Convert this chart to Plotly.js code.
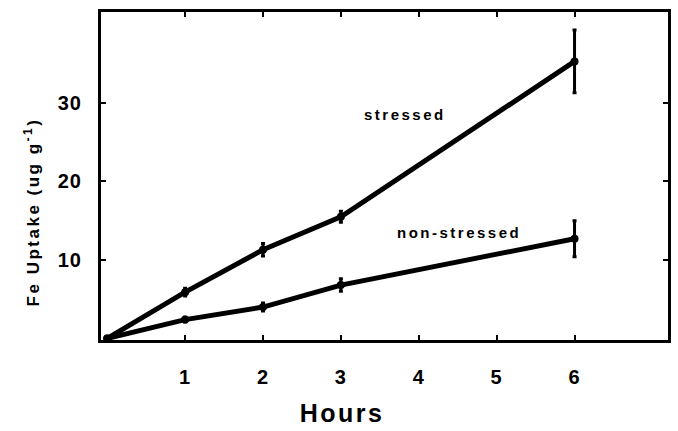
<!DOCTYPE html>
<html>
<head>
<meta charset="utf-8">
<script src="https://cdn.plot.ly/plotly-3.0.1.min.js"></script>
<style>
html,body{margin:0;padding:0;background:#fff;}
#chart{width:678px;height:431px;}
#chart .xtick text,#chart .ytick text{letter-spacing:1px;}
#chart .annotation-text{letter-spacing:2.5px;}
</style>
</head>
<body>
<div id="chart"></div>
<script>
const hours = [0, 1, 2, 3, 6];
const stressed = [0, 5.9, 11.3, 15.5, 35.3];
const stressedErr = [0, 0.5, 0.8, 0.7, 4.0];
const nonStressed = [0, 2.4, 4.0, 6.8, 12.7];
const nonStressedErr = [0, 0.3, 0.5, 0.8, 2.3];
const xTicks = [1, 2, 3, 4, 5, 6];
const yTicks = [10, 20, 30];
const seriesLabels = ["stressed", "non-stressed"];
const xTitle = "Hours";
const yTitle = "Fe Uptake (ug g<sup>-1</sup>)";

const FONT = "Liberation Sans, Arial, Helvetica, sans-serif";
function series(y, err) {
  return {
    x: hours, y: y, type: "scatter", mode: "lines+markers",
    line: {color: "#000", width: 5},
    marker: {color: "#000", size: 8},
    error_y: {type: "data", array: err, visible: true, color: "#000", thickness: 3, width: 2},
    showlegend: false, hoverinfo: "skip"
  };
}
const data = [series(stressed, stressedErr), series(nonStressed, nonStressedErr)];
const axisCommon = {
  showline: true, mirror: "ticks", linecolor: "#000", linewidth: 3,
  ticks: "inside", ticklen: 5, tickwidth: 2, tickcolor: "#000",
  showgrid: false, zeroline: false,
  tickfont: {family: FONT, size: 20, color: "#000", weight: "bold"}
};
const layout = {
  width: 678, height: 431,
  margin: {l: 101, r: 10, t: 12, b: 91},
  paper_bgcolor: "#fff", plot_bgcolor: "#fff",
  xaxis: Object.assign({}, axisCommon, {
    range: [-0.08, 7.2], tickvals: xTicks, ticktext: xTicks.map(String),
    ticklabelstandoff: 17
  }),
  yaxis: Object.assign({}, axisCommon, {
    range: [-0.2, 41.6], tickvals: yTicks, ticktext: yTicks.map(String),
    ticklabelstandoff: 12
  }),
  annotations: [
    {x: 3.82, y: 28.5, xref: "x", yref: "y", text: seriesLabels[0], showarrow: false,
     font: {family: FONT, size: 15, color: "#000", weight: "bold"}},
    {x: 4.52, y: 13.55, xref: "x", yref: "y", text: seriesLabels[1], showarrow: false,
     font: {family: FONT, size: 15, color: "#000", weight: "bold"}},
    {x: 0.425, y: -0.222, xref: "paper", yref: "paper", text: xTitle, showarrow: false,
     xanchor: "center", yanchor: "middle", borderpad: 0,
     font: {family: FONT, size: 25, color: "#000", weight: "bold"}},
    {x: -0.122, y: 0.39, xref: "paper", yref: "paper", text: yTitle, showarrow: false,
     textangle: -90, xanchor: "center", yanchor: "middle",
     font: {family: FONT, size: 17, color: "#000", weight: "bold"}}
  ]
};
Plotly.newPlot("chart", data, layout, {displayModeBar: false, staticPlot: true});
</script>
</body>
</html>
